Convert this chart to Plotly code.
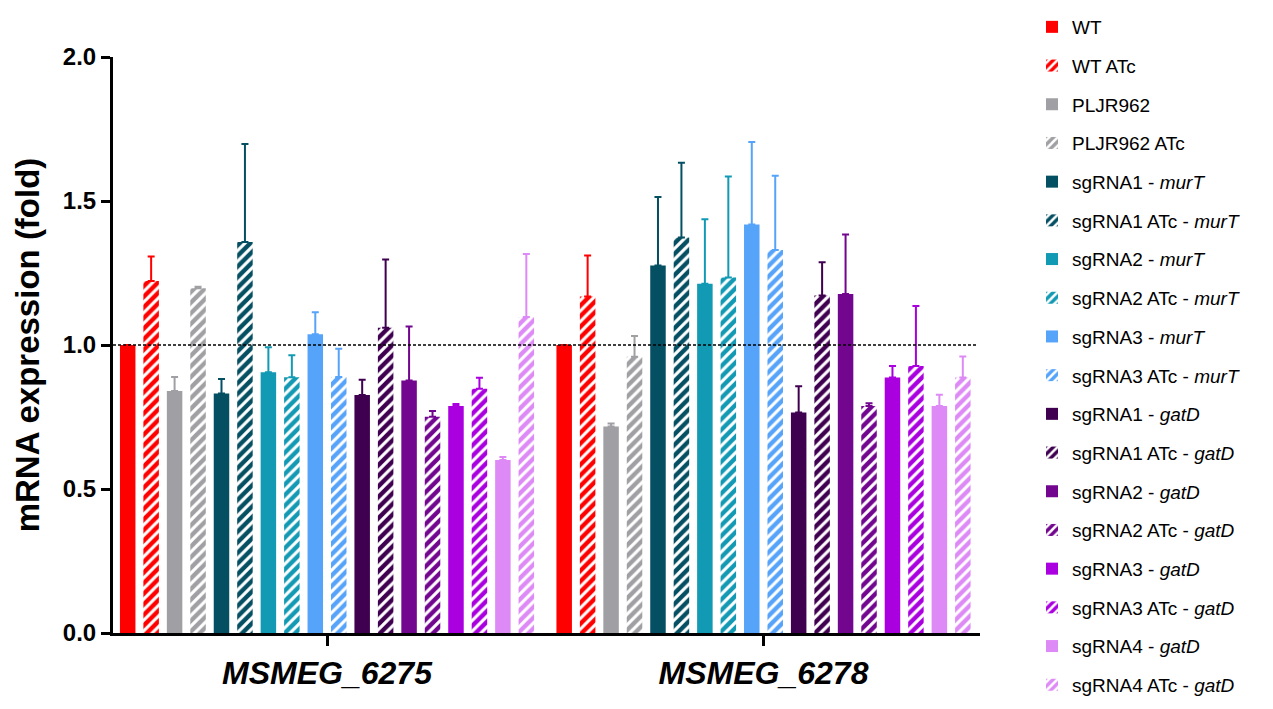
import plotly.graph_objects as go

genes = ["MSMEG_6275", "MSMEG_6278"]
gene_labels = ["<b><i>MSMEG_6275</i></b>", "<b><i>MSMEG_6278</i></b>"]

series_names = [
    "WT", "WT ATc", "PLJR962", "PLJR962 ATc",
    "sgRNA1 - <i>murT</i>", "sgRNA1 ATc - <i>murT</i>",
    "sgRNA2 - <i>murT</i>", "sgRNA2 ATc - <i>murT</i>",
    "sgRNA3 - <i>murT</i>", "sgRNA3 ATc - <i>murT</i>",
    "sgRNA1 - <i>gatD</i>", "sgRNA1 ATc - <i>gatD</i>",
    "sgRNA2 - <i>gatD</i>", "sgRNA2 ATc - <i>gatD</i>",
    "sgRNA3 - <i>gatD</i>", "sgRNA3 ATc - <i>gatD</i>",
    "sgRNA4 - <i>gatD</i>", "sgRNA4 ATc - <i>gatD</i>",
]

# mean values per series: [MSMEG_6275, MSMEG_6278]
means = [
    [1.00, 1.00], [1.222, 1.168], [0.840, 0.717], [1.197, 0.959],
    [0.832, 1.276], [1.358, 1.373], [0.905, 1.213], [0.888, 1.234],
    [1.037, 1.418], [0.889, 1.330], [0.826, 0.766], [1.060, 1.172],
    [0.877, 1.177], [0.751, 0.788], [0.788, 0.887], [0.848, 0.927],
    [0.601, 0.788], [1.097, 0.887],
]

# upper error (SD) per series
errors = [
    [0.0, 0.0], [0.085, 0.143], [0.049, 0.010], [0.005, 0.072],
    [0.050, 0.238], [0.340, 0.260], [0.087, 0.224], [0.076, 0.351],
    [0.077, 0.287], [0.098, 0.258], [0.053, 0.091], [0.237, 0.115],
    [0.187, 0.207], [0.020, 0.010], [0.007, 0.040], [0.038, 0.208],
    [0.010, 0.039], [0.219, 0.073],
]

base_colors = ["#FF0000", "#A0A0A4", "#054F63", "#1299B3", "#56A3FA",
               "#3F0050", "#72068F", "#AA00E0", "#DE8AF6"]
hatched = [False, True] * 9

fig = go.Figure()
for i, name in enumerate(series_names):
    col = base_colors[i // 2]
    marker = dict(color=col, line=dict(width=0))
    if hatched[i]:
        marker["pattern"] = dict(shape="/", fgcolor="white", fgopacity=1,
                                 size=7.5, solidity=0.42, fillmode="overlay")
    fig.add_trace(go.Bar(
        x=genes, y=means[i], name=name, marker=marker,
        legendgroup=f"g{i}",
        error_y=dict(type="data", array=errors[i], arrayminus=[0, 0],
                     symmetric=False, color=col, thickness=2, width=3.5),
    ))

fig.add_shape(type="line", xref="paper", yref="y", x0=0, x1=0.9965, y0=1, y1=1,
              line=dict(color="black", width=1.5, dash="3px,2px"))

fig.update_layout(
    width=1265, height=701,
    margin=dict(l=105, r=293, t=49, b=76, autoexpand=False),
    plot_bgcolor="white", paper_bgcolor="white",
    barmode="group", bargap=0.033, bargroupgap=0.339,
    font=dict(family="Liberation Sans, Arial, sans-serif", color="black"),
    legend=dict(x=1.06, y=1.0, yref="container", xanchor="left", yanchor="top",
                maxheight=701,
                font=dict(size=19, color="black"), tracegroupgap=11,
                itemwidth=30, bgcolor="rgba(0,0,0,0)"),
    xaxis=dict(
        range=[-0.4903, 1.496], tickmode="array", tickvals=genes, ticktext=gene_labels,
        showline=True, linecolor="black", linewidth=3,
        ticks="outside", ticklen=10, tickwidth=3, tickcolor="black",
        tickfont=dict(size=32, color="black"), showgrid=False, zeroline=False,
    ),
    yaxis=dict(
        range=[0, 2], tickvals=[0, 0.5, 1.0, 1.5, 2.0], ticktext=["0.0", "0.5", "1.0", "1.5", "2.0"],
        showline=True, linecolor="black", linewidth=3,
        ticks="outside", ticklen=9, tickwidth=3, tickcolor="black",
        tickfont=dict(size=24, color="black", weight="bold"),
        title=dict(text="mRNA expression (fold)", font=dict(size=33, color="black", weight="bold"),
                   standoff=14),
        showgrid=False, zeroline=False,
    ),
)

fig.write_html("out.html")
